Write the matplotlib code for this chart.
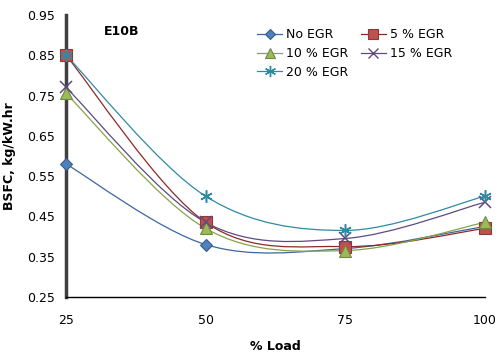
import numpy as np
import matplotlib.pyplot as plt
from matplotlib.path import Path
from matplotlib.patches import PathPatch

# % load and BSFC (kg/kW.hr)
load = [25, 50, 75, 100]
no_egr = [0.58, 0.38, 0.37, 0.425]
egr_5 = [0.85, 0.435, 0.375, 0.42]
egr_10 = [0.755, 0.42, 0.365, 0.435]
egr_15 = [0.77, 0.435, 0.395, 0.485]
egr_20 = [0.85, 0.50, 0.415, 0.50]

labels = ['No EGR', '5 % EGR', '10 % EGR', '15 % EGR', '20 % EGR']
series = [no_egr, egr_5, egr_10, egr_15, egr_20]
line_cols = ['#3a67a0', '#8c2a27', '#86a34a', '#5e4a80', '#2f8aa3']
face_cols = ['#4f81bd', '#c0504d', '#9bbb59', '#8064a2', '#4bacc6']
edge_cols = ['#385d8a', '#8c3836', '#71893f', '#5c4776', '#357d91']
markers = ['D', 's', '^', 'x', (6, 2, 0)]
msizes = [6, 8, 8, 8, 9]


def smooth_path(x, y):
    # excel style smoothed line: cubic bezier segments
    x = np.asarray(x, float)
    y = np.asarray(y, float)
    px = np.concatenate([[x[0]], x, [x[-1]]])
    py = np.concatenate([[y[0]], y, [y[-1]]])
    verts = [(x[0], y[0])]
    codes = [Path.MOVETO]
    for i in range(1, len(x)):
        c1 = (px[i] + (px[i + 1] - px[i - 1]) / 6, py[i] + (py[i + 1] - py[i - 1]) / 6)
        c2 = (px[i + 1] - (px[i + 2] - px[i]) / 6, py[i + 1] - (py[i + 2] - py[i]) / 6)
        verts += [c1, c2, (x[i], y[i])]
        codes += [Path.CURVE4] * 3
    return Path(verts, codes)


plt.rcParams['font.family'] = ['DejaVu Sans']
fig = plt.figure(figsize=(5.04, 3.56), dpi=100)
ax = fig.add_axes([0.131, 0.166, 0.831, 0.792])

handles = []
for i in range(5):
    ax.add_patch(PathPatch(smooth_path(load, series[i]), fill=False,
                           edgecolor=line_cols[i], lw=0.9, zorder=2))
    open_mk = markers[i] == 'x' or isinstance(markers[i], tuple)
    if open_mk:
        ax.plot(load, series[i], ls='none', marker=markers[i], ms=msizes[i],
                color=line_cols[i], mew=1.1, zorder=3, clip_on=False)
        h, = ax.plot([], [], color=line_cols[i], lw=0.9, marker=markers[i],
                     ms=msizes[i] - 1, mew=1.0, label=labels[i])
    else:
        ax.plot(load, series[i], ls='none', marker=markers[i], ms=msizes[i],
                mfc=face_cols[i], mec=edge_cols[i], mew=0.8, zorder=3,
                clip_on=False)
        h, = ax.plot([], [], color=line_cols[i], lw=0.9, marker=markers[i],
                     ms=msizes[i] - 1, mfc=face_cols[i], mec=edge_cols[i],
                     mew=0.8, label=labels[i])
    handles.append(h)

ax.set_xlim(25, 100)
ax.set_ylim(0.25, 0.95)
ax.set_xticks(load)
ax.set_yticks(np.arange(0.25, 0.951, 0.1))
ax.set_yticklabels(['%.2f' % v for v in np.arange(0.25, 0.951, 0.1)])
ax.tick_params(length=0, labelsize=9, pad=8)
ax.tick_params(axis='x', pad=12)
for s in ['top', 'right']:
    ax.spines[s].set_visible(False)
ax.spines['left'].set_linewidth(2.5)
ax.spines['left'].set_color('#404040')
ax.spines['bottom'].set_linewidth(1.0)
ax.spines['bottom'].set_color('black')
ax.spines['left'].set_zorder(1)

ax.set_xlabel('% Load', fontsize=9, fontweight='bold', labelpad=10)
ax.set_ylabel('BSFC, kg/kW.hr', fontsize=9, fontweight='bold', labelpad=8)
ax.text(0.09, 0.93, 'E10B', transform=ax.transAxes, fontsize=9, fontweight='bold')

order = [0, 2, 4, 1, 3]
ax.legend([handles[k] for k in order], [labels[k] for k in order],
          loc='upper left', bbox_to_anchor=(0.445, 0.97), ncol=2, frameon=False,
          fontsize=9, handlelength=2.0, handletextpad=0.3, columnspacing=1.0,
          labelspacing=0.45, borderaxespad=0)

fig.savefig('out.png', dpi=100)
